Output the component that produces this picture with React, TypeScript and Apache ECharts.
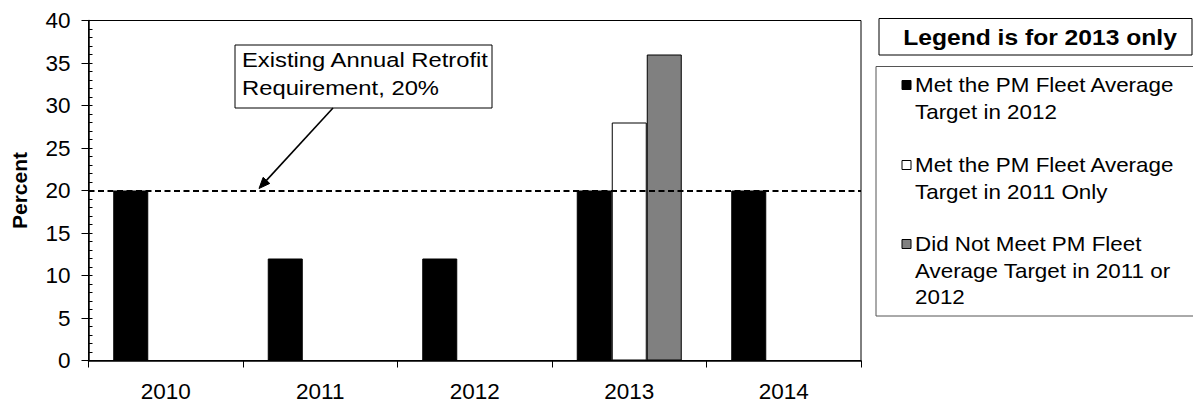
import React, { useEffect, useRef } from "react";
import * as echarts from "echarts";

// Retrofit shares by year
const categories = ["2010", "2011", "2012", "2013", "2014"];
const metTargetIn2012 = [20, 12, 12, 20, 20];
const metTargetIn2011Only = [null, null, null, 28, null];
const didNotMeetTarget = [null, null, null, 36, null];
const retrofitRequirement = 20;

const yMin = 0;
const yMax = 40;
const yStep = 5;

const annotationLines = ["Existing Annual Retrofit", "Requirement, 20%"];
const legendTitle = "Legend is for 2013 only";
const legendItems = [
  { fill: "#000000", lines: ["Met the PM Fleet Average", "Target in 2012"] },
  { fill: "#ffffff", lines: ["Met the PM Fleet Average", "Target in 2011 Only"] },
  { fill: "#808080", lines: ["Did Not Meet PM Fleet", "Average Target in 2011 or", "2012"] },
];

const FONT = "'Liberation Sans', Arial, Helvetica, sans-serif";

export default function App() {
  const ref = useRef<HTMLDivElement | null>(null);

  useEffect(() => {
    if (!ref.current) return;
    const chart = echarts.init(ref.current, null, { renderer: "svg" });

    const barStyle = (fill: string) => ({
      color: fill,
      borderColor: "#000",
      borderWidth: 1,
    });

    chart.setOption({
      animation: false,
      backgroundColor: "#fff",
      textStyle: { fontFamily: FONT },
      grid: {
        left: 88.5,
        right: 332,
        top: 20.5,
        bottom: 46.5,
        show: true,
        borderColor: "#000",
        borderWidth: 1,
        backgroundColor: "transparent",
      },
      xAxis: {
        type: "category",
        data: categories,
        boundaryGap: true,
        axisLine: { lineStyle: { color: "#000", width: 1.5 } },
        axisTick: { show: true, length: 7, lineStyle: { color: "#000", width: 1 } },
        axisLabel: { color: "#000", fontSize: 22.5, fontFamily: FONT, margin: 19 },
        splitLine: { show: false },
      },
      yAxis: [
        {
          type: "value",
          min: yMin,
          max: yMax,
          interval: yStep,
          name: "Percent",
          nameLocation: "middle",
          nameRotate: 90,
          nameGap: 59,
          nameTextStyle: { color: "#000", fontSize: 21, fontWeight: "bold", fontFamily: FONT },
          axisLine: { show: true, lineStyle: { color: "#000", width: 1.5 } },
          axisTick: { show: true, length: 7, lineStyle: { color: "#000", width: 1 } },
          axisLabel: { color: "#000", fontSize: 22.5, fontFamily: FONT, margin: 18 },
          splitLine: { show: false },
        },
        {
          // inner unit ticks
          type: "value",
          position: "left",
          min: yMin,
          max: yMax,
          interval: 1,
          axisLine: { show: false },
          axisTick: { show: true, inside: true, length: 4, lineStyle: { color: "#000", width: 1 } },
          axisLabel: { show: false },
          splitLine: { show: false },
        },
      ],
      series: [
        {
          name: "Met the PM Fleet Average Target in 2012",
          type: "bar",
          data: metTargetIn2012,
          barWidth: 35,
          barGap: "0%",
          itemStyle: barStyle("#000000"),
        },
        {
          name: "Met the PM Fleet Average Target in 2011 Only",
          type: "bar",
          data: metTargetIn2011Only,
          barWidth: 35,
          barGap: "0%",
          itemStyle: barStyle("#ffffff"),
        },
        {
          name: "Did Not Meet PM Fleet Average Target in 2011 or 2012",
          type: "bar",
          data: didNotMeetTarget,
          barWidth: 35,
          barGap: "0%",
          itemStyle: barStyle("#808080"),
          markLine: {
            silent: true,
            symbol: ["none", "none"],
            label: { show: false },
            lineStyle: { color: "#000", width: 1.8, type: [6, 3.5] },
            data: [{ yAxis: retrofitRequirement }],
          },
        },
      ],
    });

    // Annotation arrow points at the requirement line
    const tipY = (chart.convertToPixel({ yAxisIndex: 0 }, retrofitRequirement) as number) - 2;
    const tail = [333, 108];
    const tip = [259, tipY];
    const dx = tip[0] - tail[0];
    const dy = tip[1] - tail[1];
    const len = Math.sqrt(dx * dx + dy * dy);
    const ux = dx / len;
    const uy = dy / len;
    const headLen = 11;
    const headHalf = 4.5;
    const bx = tip[0] - headLen * ux;
    const by = tip[1] - headLen * uy;

    const graphics: any[] = [
      {
        type: "rect",
        shape: { x: 235, y: 45, width: 257, height: 63 },
        style: { fill: "#fff", stroke: "#000", lineWidth: 1 },
        z: 10,
      },
      ...annotationLines.map((t, i) => ({
        type: "text",
        x: 242,
        y: 60.5 + i * 27.5,
        scaleX: 1.22,
        z: 11,
        style: {
          text: t,
          fontSize: 19.5,
          fontFamily: FONT,
          fill: "#000",
          textAlign: "left",
          textVerticalAlign: "middle",
        },
      })),
      {
        type: "line",
        shape: { x1: tail[0], y1: tail[1], x2: bx, y2: by },
        style: { stroke: "#000", lineWidth: 1.6 },
        z: 10,
      },
      {
        type: "polygon",
        shape: {
          points: [
            [tip[0], tip[1]],
            [bx + headHalf * uy, by - headHalf * ux],
            [bx - headHalf * uy, by + headHalf * ux],
          ],
        },
        style: { fill: "#000", stroke: "#000", lineWidth: 1 },
        z: 10,
      },
      // Legend title box
      {
        type: "rect",
        shape: { x: 879, y: 18.5, width: 313, height: 36.5 },
        style: { fill: "#fff", stroke: "#000", lineWidth: 1 },
      },
      {
        type: "text",
        x: 1040,
        y: 37,
        scaleX: 1.12,
        style: {
          text: legendTitle,
          fontSize: 22,
          fontWeight: "bold",
          fontFamily: FONT,
          fill: "#000",
          textAlign: "center",
          textVerticalAlign: "middle",
        },
      },
      // Legend body box
      {
        type: "rect",
        shape: { x: 876, y: 66.5, width: 340, height: 249.5 },
        style: { fill: "#fff", stroke: "#555", lineWidth: 1 },
      },
    ];

    const itemTops = [85, 165, 244];
    const lineStep = 26.5;
    legendItems.forEach((item, k) => {
      const y0 = itemTops[k];
      graphics.push({
        type: "rect",
        shape: { x: 902, y: y0 - 4.5, width: 9, height: 9 },
        style: { fill: item.fill, stroke: "#000", lineWidth: 1 },
        z: 2,
      });
      item.lines.forEach((t, i) => {
        graphics.push({
          type: "text",
          x: 915,
          y: y0 + i * lineStep,
          scaleX: 1.12,
          z: 2,
          style: {
            text: t,
            fontSize: 20,
            fontFamily: FONT,
            fill: "#000",
            textAlign: "left",
            textVerticalAlign: "middle",
          },
        });
      });
    });

    chart.setOption({ graphic: graphics });

    return () => {
      chart.dispose();
    };
  }, []);

  return (
    <div
      ref={ref}
      style={{ position: "fixed", left: 0, top: 0, width: 1193, height: 407, background: "#fff" }}
    />
  );
}
